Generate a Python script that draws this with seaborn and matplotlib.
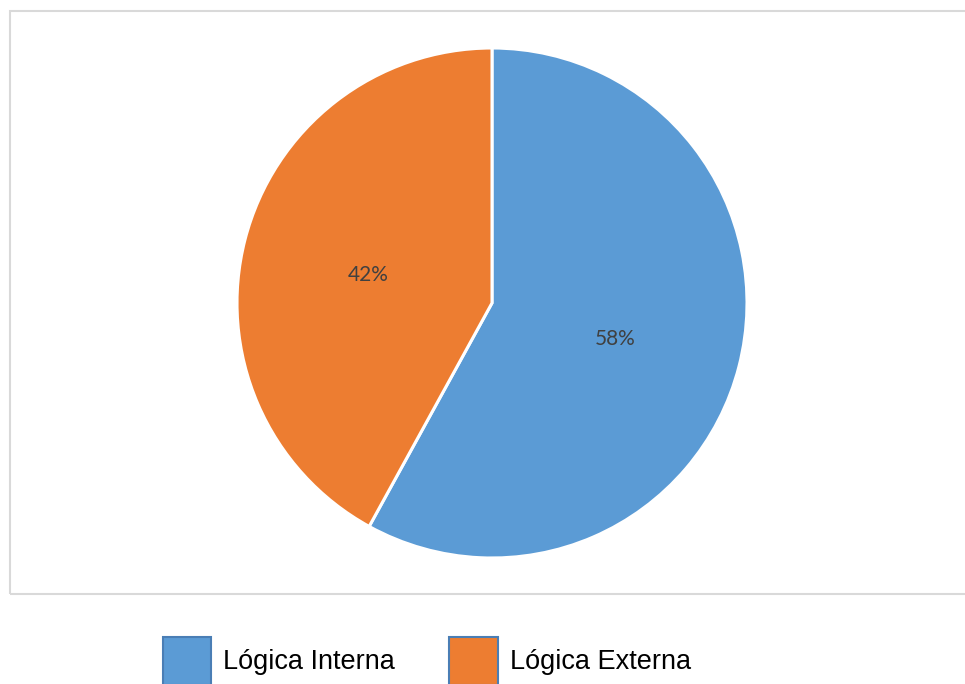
import matplotlib
matplotlib.use("Agg")
import matplotlib.pyplot as plt
from matplotlib.patches import Patch, Rectangle
import seaborn as sns

# Share of each kind of logic
categories = ["Lógica Interna", "Lógica Externa"]
shares = [58, 42]
colors = ["#5B9BD5", "#ED7D31"]

sns.set_theme(style="white")
plt.rcParams["font.family"] = ["Liberation Sans", "DejaVu Sans"]

W, H = 965, 684
fig = plt.figure(figsize=(W / 100, H / 100), dpi=100)
fig.patch.set_facecolor("white")

# Light grey chart-area frame
fig.patches.append(Rectangle((10 / W, 1 - 594 / H), (W + 5 - 10) / W, (594 - 11) / H,
                             transform=fig.transFigure, fill=False,
                             edgecolor="#D9D9D9", linewidth=1.5, zorder=0))

# Pie axes: centre (492, 303) px, radius 255 px
cx, cy, r = 492, 303, 255
ax = fig.add_axes([(cx - r) / W, 1 - (cy + r) / H, 2 * r / W, 2 * r / H])
wedges, texts, autotexts = ax.pie(
    shares, colors=colors, startangle=90, counterclock=False,
    autopct="%1.0f%%", pctdistance=0.5,
    wedgeprops=dict(edgecolor="white", linewidth=2.2),
    textprops=dict(color="#404040", fontsize=15, family=["Lato", "DejaVu Sans"]),
)
# nudge the percentage labels slightly downward
for t in autotexts:
    x, y = t.get_position()
    t.set_position((x, y - 0.015))
ax.set_xlim(-1, 1)
ax.set_ylim(-1, 1)
ax.set_aspect("equal")
ax.axis("off")

handles = [Patch(facecolor=c, edgecolor="#4A7EB5", linewidth=1.5) for c in colors]
fig.legend(handles, categories, loc="center", ncol=2,
           bbox_to_anchor=(427 / W, 1 - 661 / H),
           frameon=False, fontsize=19.5, handlelength=1.78, handleheight=2.3,
           handletextpad=0.45, columnspacing=2.0, labelcolor="black",
           borderpad=0.0)

fig.savefig("out.png", dpi=100, facecolor="white")
